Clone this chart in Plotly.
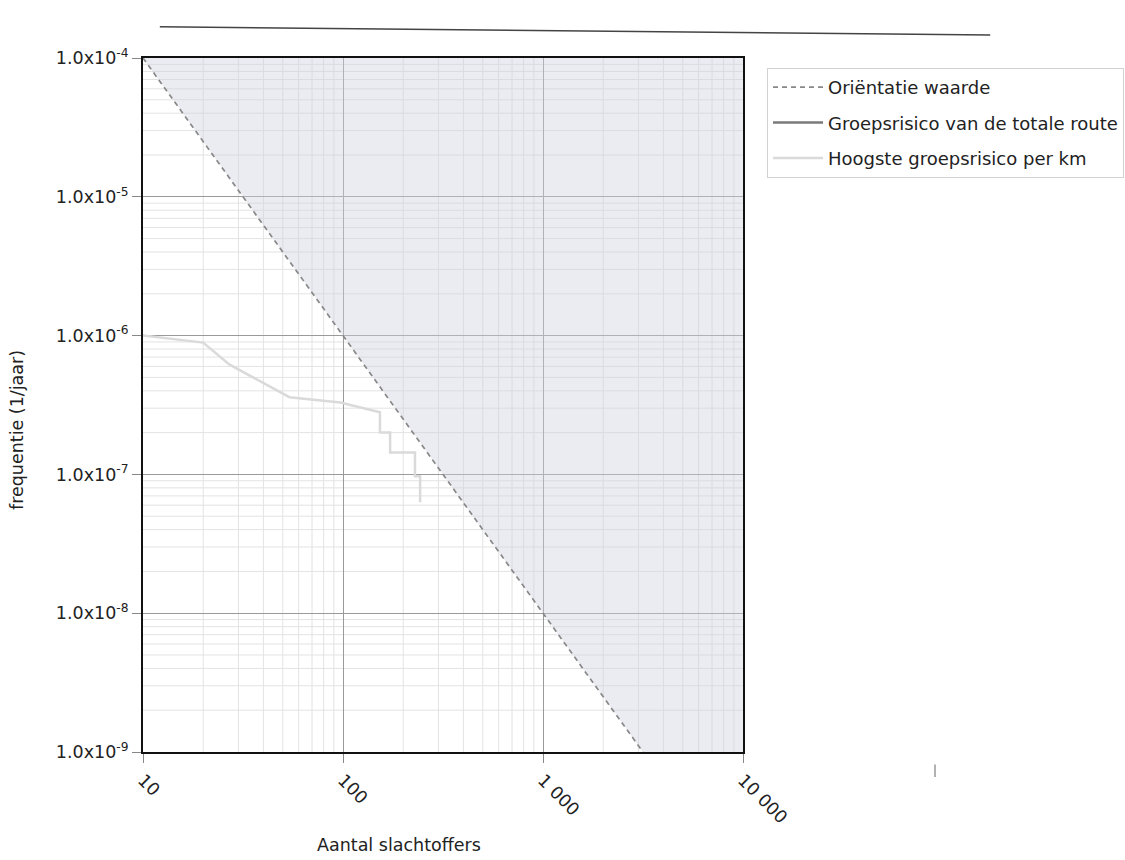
import plotly.graph_objects as go

# ---- data ----
orient_n = [10, 3162]
orient_f = [1e-4, 1e-9]

area_n = [10, 3162, 10000, 10000]
area_f = [1e-4, 1e-9, 1e-9, 1e-4]

km_n = [10, 20, 27, 54, 97, 153, 153, 172, 172, 229, 229, 243, 243]
km_f = [1.0e-6, 8.9e-7, 6.2e-7, 3.6e-7, 3.3e-7, 2.8e-7, 2.0e-7, 2.0e-7,
        1.44e-7, 1.44e-7, 9.7e-8, 9.7e-8, 6.3e-8]

route_n = [None]
route_f = [None]

ytick_vals = [1e-4, 1e-5, 1e-6, 1e-7, 1e-8, 1e-9]
ytick_text = ["1.0x10<sup>-4</sup>", "1.0x10<sup>-5</sup>", "1.0x10<sup>-6</sup>",
              "1.0x10<sup>-7</sup>", "1.0x10<sup>-8</sup>", "1.0x10<sup>-9</sup>"]
xtick_vals = [10, 100, 1000, 10000]
xtick_text = ["10", "100", "1 000", "10 000"]

FONT = "DejaVu Sans, Arial, sans-serif"

fig = go.Figure()

fig.add_trace(go.Scatter(x=area_n, y=area_f, fill="toself", mode="none",
                         fillcolor="rgba(208,208,224,0.42)", showlegend=False,
                         hoverinfo="skip"))
fig.add_trace(go.Scatter(x=orient_n, y=orient_f, mode="lines", name="Oriëntatie waarde",
                         line=dict(color="#888888", width=1.7, dash="5px,4px"), legendgroup="a"))
fig.add_trace(go.Scatter(x=route_n, y=route_f, mode="lines", name="Groepsrisico van de totale route",
                         line=dict(color="#7a7a7a", width=2.5), legendgroup="b"))
fig.add_trace(go.Scatter(x=km_n, y=km_f, mode="lines", name="Hoogste groepsrisico per km",
                         line=dict(color="#dadada", width=2.5), legendgroup="c"))

# minor grid lines
shapes = []
for d in range(1, 4):
    for m in range(2, 10):
        v = m * 10 ** d
        shapes.append(dict(type="line", xref="x", yref="paper", x0=v, x1=v, y0=0, y1=1,
                           line=dict(color="#e3e3e3", width=1), layer="below"))
for d in range(-9, -4):
    for m in range(2, 10):
        v = m * 10.0 ** d
        shapes.append(dict(type="line", xref="paper", yref="y", x0=0, x1=1, y0=v, y1=v,
                           line=dict(color="#e3e3e3", width=1), layer="below"))
# header rule of the scanned document and a small speck
shapes.append(dict(type="line", xref="paper", yref="paper", x0=0.028, x1=1.412, y0=1.045, y1=1.033,
                   line=dict(color="#444", width=1.5)))
shapes.append(dict(type="line", xref="paper", yref="paper", x0=1.32, x1=1.32, y0=-0.018, y1=-0.036,
                   line=dict(color="#999", width=1.5)))

fig.update_layout(
    width=1125, height=860,
    margin=dict(l=143, r=382, t=58, b=108, autoexpand=False),
    paper_bgcolor="white", plot_bgcolor="white",
    font=dict(family=FONT, size=18, color="#222"),
    shapes=shapes,
    showlegend=True,
    legend=dict(x=1.04, y=0.9856, xanchor="left", yanchor="top",
                bordercolor="#d2d2d2", borderwidth=1, bgcolor="white",
                font=dict(family=FONT, size=18, color="#222"), tracegroupgap=9,
                traceorder="grouped", itemwidth=50),
    annotations=[
        dict(text="Aantal slachtoffers", xref="paper", yref="paper", x=0.427, y=-0.134,
             xanchor="center", yanchor="middle", showarrow=False,
             font=dict(family=FONT, size=17.5, color="#222")),
        dict(text="frequentie (1/jaar)", xref="paper", yref="paper", x=-0.21, y=0.464,
             xanchor="center", yanchor="middle", showarrow=False, textangle=-90,
             font=dict(family=FONT, size=17.5, color="#222")),
    ],
    xaxis=dict(type="log", range=[1, 4], tickvals=xtick_vals, ticktext=xtick_text,
               tickangle=45, ticks="outside", ticklen=9, tickcolor="#888",
               tickfont=dict(family=FONT, size=17.5, color="#222"),
               showgrid=True, gridcolor="#9a9a9a", gridwidth=1,
               showline=True, linecolor="#111", linewidth=2, mirror=True,
               zeroline=False, automargin=False),
    yaxis=dict(type="log", range=[-9, -4], tickvals=ytick_vals, ticktext=ytick_text,
               ticks="outside", ticklen=9, tickcolor="#888",
               tickfont=dict(family=FONT, size=17.5, color="#222"),
               showgrid=True, gridcolor="#9a9a9a", gridwidth=1,
               showline=True, linecolor="#111", linewidth=2, mirror=True,
               zeroline=False, automargin=False),
)

fig.write_html("out.html")
